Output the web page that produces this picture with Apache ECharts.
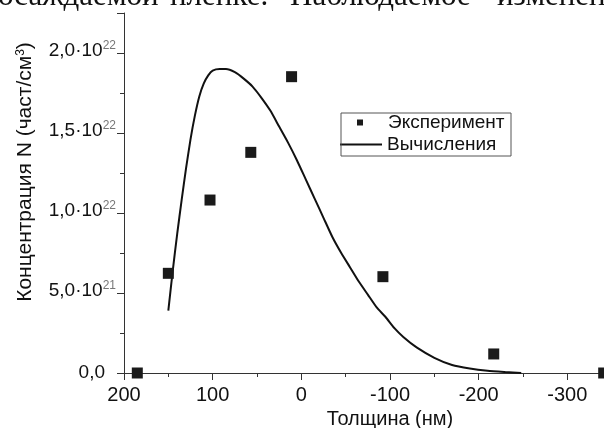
<!DOCTYPE html>
<html>
<head>
<meta charset="utf-8">
<script src="https://cdn.jsdelivr.net/npm/echarts@6/dist/echarts.min.js"></script>
<style>
html,body{margin:0;padding:0;background:#fff;}
#c{width:604px;height:428px;}
</style>
</head>
<body>
<div id="c"></div>
<script>
// Experimental points: thickness (nm), concentration (particles/cm^3)
var expX = [185, 150, 103, 57, 11, -92, -217, -341];
var expY = [0.0, 0.623e22, 1.081e22, 1.379e22, 1.852e22, 0.602e22, 0.119e22, 0.0];
// Calculated curve
var calcX = [150, 145, 140, 135, 130, 125, 120, 115, 110, 105, 100, 92, 85, 75, 65, 55, 45, 35, 25, 15, 5, -5, -15, -25, -35, -45, -55, -65, -75, -85, -95, -105, -115, -130, -150, -170, -190, -210, -230, -248];
var calcY = [0.39e22, 0.64e22, 0.87e22, 1.08e22, 1.28e22, 1.46e22, 1.61e22, 1.73e22, 1.81e22, 1.86e22, 1.89e22, 1.90e22, 1.90e22, 1.88e22, 1.84e22, 1.79e22, 1.72e22, 1.64e22, 1.54e22, 1.44e22, 1.33e22, 1.21e22, 1.09e22, 0.97e22, 0.85e22, 0.75e22, 0.66e22, 0.57e22, 0.49e22, 0.41e22, 0.35e22, 0.28e22, 0.225e22, 0.16e22, 0.095e22, 0.05e22, 0.028e22, 0.014e22, 0.006e22, 0.0];
var xTicks = ['200', '100', '0', '-100', '-200', '-300'];
var seriesNames = ['Эксперимент', 'Вычисления'];
var topLine = ['осаждаемой', 'пленке.', 'Наблюдаемое', 'изменение'];

var F = '"Liberation Sans", Arial, sans-serif';
var chart = echarts.init(document.getElementById('c'), null, {renderer: 'canvas'});

function pairs(xs, ys) { return xs.map(function (x, i) { return [x, ys[i]]; }); }

var topPos = [-2, 170, 290, 497];

chart.setOption({
  animation: false,
  backgroundColor: '#fff',
  textStyle: {fontFamily: F},
  grid: {left: 124, width: 532, top: 13, height: 360, containLabel: false, outerBoundsMode: 'none'},
  graphic: topLine.map(function (w, i) {
    return {type: 'text', x: topPos[i], y: -3,
      style: {text: w, font: '31px "Liberation Serif", "Times New Roman", serif', fill: '#111',
        align: 'left', verticalAlign: 'middle'}};
  }).concat([{
    type: 'rect', shape: {x: 341, y: 113, width: 170, height: 43},
    style: {fill: 'none', stroke: '#555', lineWidth: 1}, z: 10
  }]),
  legend: [{
    data: [seriesNames[0]], left: 357, top: 113, padding: 0,
    itemWidth: 6, itemHeight: 6, orient: 'vertical',
    textStyle: {fontFamily: F, fontSize: 19, color: '#111', padding: [0, 0, 0, 20]}
  }, {
    data: [{name: seriesNames[1], icon: 'path://M0,0h42v2h-42z'}], left: 340, top: 135, padding: 0,
    itemWidth: 42, itemHeight: 14, orient: 'vertical',
    textStyle: {fontFamily: F, fontSize: 19, color: '#111'}
  }],
  xAxis: {
    type: 'value', inverse: true, min: -400, max: 200, interval: 100,
    name: 'Толщина (нм)', nameLocation: 'middle', nameGap: 31,
    nameTextStyle: {fontFamily: F, fontSize: 20, color: '#111'},
    axisLine: {onZero: false, lineStyle: {color: '#333', width: 1}},
    axisTick: {length: 7, lineStyle: {color: '#333'}},
    minorTick: {show: true, splitNumber: 2, length: 4, lineStyle: {color: '#333'}},
    splitLine: {show: false},
    axisLabel: {fontFamily: F, fontSize: 20, color: '#111', margin: 12,
      formatter: function (v) { return xTicks.indexOf(String(v)) >= 0 ? String(v) : ''; }}
  },
  yAxis: {
    type: 'value', min: 0, max: 2.25e22, interval: 0.5e22,
    name: 'Концентрация N (част/см{s|3})', nameLocation: 'middle', nameGap: 88, nameRotate: 90,
    nameTextStyle: {fontFamily: F, fontSize: 21, color: '#111', padding: [0, 0, 0, 42],
      rich: {s: {fontSize: 12, color: '#111', padding: [0, 0, 9, 0]}}},
    axisLine: {onZero: false, lineStyle: {color: '#333', width: 1}},
    axisTick: {length: 7, lineStyle: {color: '#333'}},
    minorTick: {show: true, splitNumber: 2, length: 4, lineStyle: {color: '#333'}},
    splitLine: {show: false},
    axisLabel: {
      margin: 8, showMaxLabel: false,
      formatter: function (v) {
        if (v === 0) return '{z|0,0}';
        if (v > 2.1e22) return '';
        var e = v >= 1e22 ? 22 : 21;
        var m = (v / Math.pow(10, e)).toFixed(1).replace('.', ',');
        return '{m|' + m + '·10}{s|' + e + '}';
      },
      rich: {
        m: {fontFamily: F, fontSize: 19, color: '#111', padding: [0, 0, 5, 0]},
        z: {fontFamily: F, fontSize: 19, color: '#111', padding: [0, 11, 0, 0]},
        s: {fontFamily: F, fontSize: 12, color: '#777', padding: [0, 0, 15, 0]}
      }
    }
  },
  series: [{
    name: seriesNames[0], type: 'scatter', symbol: 'rect', symbolSize: 11,
    itemStyle: {color: '#1a1a1a', opacity: 1}, data: pairs(expX, expY), z: 3
  }, {
    name: seriesNames[1], type: 'line', smooth: 0.2, showSymbol: false, symbol: 'none',
    lineStyle: {color: '#111', width: 2}, itemStyle: {color: '#111'},
    data: pairs(calcX, calcY), z: 2
  }]
});
</script>
</body>
</html>
